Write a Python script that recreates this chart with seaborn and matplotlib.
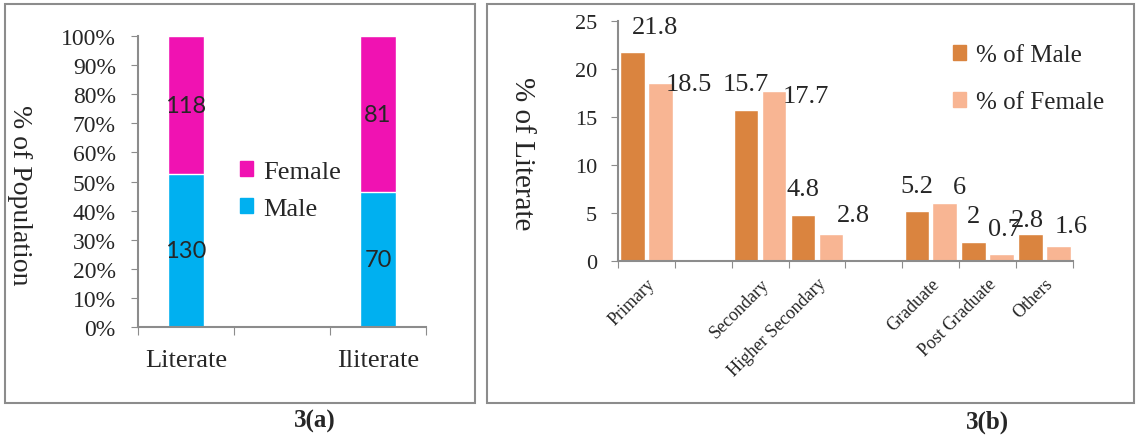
import numpy as np
import pandas as pd
import seaborn as sns
import matplotlib.pyplot as plt
from matplotlib.patches import Patch, Rectangle

# Dados 3(a)
grupos = ['Literate', 'Iliterate']
masc_a = [130, 70]
fem_a = [118, 81]

# Dados 3(b)
niveis = ['Primary', 'Secondary', 'Higher Secondary', 'Graduate', 'Post Graduate', 'Others']
pct_masc = [21.8, 15.7, 4.8, 5.2, 2.0, 2.8]
pct_fem = [18.5, 17.7, 2.8, 6.0, 0.7, 1.6]

# deslocamento dos rótulos (como no original)
dx_m = [0.39, 0, 0, 0, 0, -0.06]
dy_m = [2.6, 2.7, 2.7, 2.6, 2.7, 1.5]
dx_f = [0.5, 0.55, 0.39, 0.26, 0.06, 0.22]
dy_f = [-0.1, -0.5, 2.0, 1.7, 2.6, 2.0]

sns.set_style('white')
plt.rcParams['font.family'] = ['Liberation Serif', 'DejaVu Sans']

cor_m_a, cor_f_a = '#00B0F0', '#F012B2'
cor_m_b, cor_f_b = '#DA843F', '#F8B593'
cinza = '#8C8C8C'

fig = plt.figure(figsize=(11.36, 4.39), dpi=100)
ax1 = fig.add_axes([0.1215, 0.2528, 0.2535, 0.6629])
ax2 = fig.add_axes([0.544, 0.403, 0.4005, 0.5474])

# ---------- 3(a) ----------
ordem_a = ['Literate', ' ', 'Iliterate']
tot = [m + f for m, f in zip(masc_a, fem_a)]
df_a = pd.DataFrame({'grupo': grupos,
                     'male': [100 * m / t for m, t in zip(masc_a, tot)],
                     'total': [100.0 for _ in tot]})
sns.barplot(data=df_a, x='grupo', y='total', order=ordem_a, color=cor_f_a,
            width=0.37, saturation=1, edgecolor='white', linewidth=1, ax=ax1)
sns.barplot(data=df_a, x='grupo', y='male', order=ordem_a, color=cor_m_a,
            width=0.37, saturation=1, edgecolor='white', linewidth=1, ax=ax1)
for i, g in enumerate(grupos):
    xpos = ordem_a.index(g)
    pm = df_a['male'][i]
    ax1.text(xpos, pm / 2, str(masc_a[i]), ha='center', va='center', fontsize=17, family='Lato')
    ax1.text(xpos, pm + (100 - pm) / 2, str(fem_a[i]), ha='center', va='center', fontsize=17, family='Lato')

ax1.set_xlim(-0.5, 2.5)
ax1.set_ylim(0, 100)
ax1.set_yticks(np.arange(0, 101, 10))
ax1.set_yticklabels([f'{v}%' for v in range(0, 101, 10)], fontsize=17)
ax1.set_xticks(np.arange(-0.5, 3, 1))
ax1.set_xticklabels([])
ax1.set_xticks([0, 2], minor=True)
ax1.set_xticklabels(['Literate', 'Iliterate'], minor=True, fontsize=19)
ax1.tick_params(axis='x', which='minor', length=0, pad=16)
ax1.tick_params(axis='both', which='major', length=5, color=cinza, direction='out')
ax1.tick_params(axis='y', which='major', pad=11)
ax1.tick_params(axis='x', which='major', length=6)
ax1.set_xlabel('')
ax1.set_ylabel('')
for s in ['top', 'right']:
    ax1.spines[s].set_visible(False)
for s in ['left', 'bottom']:
    ax1.spines[s].set_color(cinza)
    ax1.spines[s].set_linewidth(1.5)
ax1.tick_params(axis='both', which='both', bottom=True, left=True)

h_a = [Patch(color=cor_f_a), Patch(color=cor_m_a)]
ax1.legend(h_a, ['Female', 'Male'], loc='center left', bbox_to_anchor=(0.27, 0.47),
           frameon=False, fontsize=19, handlelength=0.5, handleheight=0.5,
           handletextpad=0.4, labelspacing=0.55)

# ---------- 3(b) ----------
ordem_b = ['Primary', '', 'Secondary', 'Higher Secondary', ' ', 'Graduate', 'Post Graduate', 'Others']
df_b = pd.DataFrame({'nivel': niveis * 2,
                     'sexo': ['% of Male'] * len(niveis) + ['% of Female'] * len(niveis),
                     'valor': pct_masc + pct_fem})
sns.barplot(data=df_b, x='nivel', y='valor', hue='sexo', order=ordem_b,
            hue_order=['% of Male', '% of Female'],
            palette={'% of Male': cor_m_b, '% of Female': cor_f_b},
            width=0.98, gap=0.12, saturation=1, edgecolor='white', linewidth=1,
            legend=False, ax=ax2)

larg = 0.98 / 2
for i, n in enumerate(niveis):
    xpos = ordem_b.index(n)
    xm = xpos - larg / 2
    xf = xpos + larg / 2
    vm = pct_masc[i]
    vf = pct_fem[i]
    ax2.text(xm + dx_m[i], vm + dy_m[i], f'{vm:g}', ha='center', va='center', fontsize=19)
    ax2.text(xf + dx_f[i], vf + dy_f[i], f'{vf:g}', ha='center', va='center', fontsize=19)

ax2.set_xlim(-0.5, 7.5)
ax2.set_ylim(0, 25)
ax2.set_yticks(np.arange(0, 26, 5))
ax2.set_yticklabels([str(v) for v in range(0, 26, 5)], fontsize=16)
ax2.set_xticks(np.arange(-0.5, 8, 1))
ax2.set_xticklabels([])
ax2.set_xticks(np.arange(8), minor=True)
ax2.set_xticklabels(ordem_b, minor=True, fontsize=13, rotation=45, ha='right',
                    rotation_mode='anchor')
ax2.tick_params(axis='x', which='minor', length=0, pad=10)
ax2.tick_params(axis='both', which='major', length=5, color=cinza, direction='out')
ax2.tick_params(axis='y', which='major', pad=10)
ax2.set_xlabel('')
ax2.set_ylabel('')
for s in ['top', 'right']:
    ax2.spines[s].set_visible(False)
for s in ['left', 'bottom']:
    ax2.spines[s].set_color(cinza)
    ax2.spines[s].set_linewidth(1.5)
ax2.tick_params(axis='both', which='both', bottom=True, left=True)

h_b = [Patch(color=cor_m_b), Patch(color=cor_f_b)]
ax2.legend(h_b, ['% of Male', '% of Female'], loc='center left', bbox_to_anchor=(0.687, 0.758),
           frameon=False, fontsize=18, handlelength=0.5, handleheight=0.5,
           handletextpad=0.4, labelspacing=1.0)

# rótulos dos eixos, molduras e legendas das figuras
fig.text(0.0176, 0.556, '% of Population', rotation=270, ha='center', va='center', fontsize=20)
fig.text(0.4595, 0.649, '% of Literate', rotation=270, ha='center', va='center', fontsize=21)

fig.add_artist(Rectangle((0.0044, 0.0797), 0.4136, 0.9089, transform=fig.transFigure,
                         fill=False, edgecolor=cinza, linewidth=1.5))
fig.add_artist(Rectangle((0.4287, 0.0797), 0.5695, 0.9089, transform=fig.transFigure,
                         fill=False, edgecolor=cinza, linewidth=1.5))
fig.text(0.277, 0.039, '3(a)', ha='center', va='center', fontsize=18, fontweight='bold')
fig.text(0.869, 0.039, '3(b)', ha='center', va='center', fontsize=18, fontweight='bold')

plt.savefig('out.png', dpi=100)
